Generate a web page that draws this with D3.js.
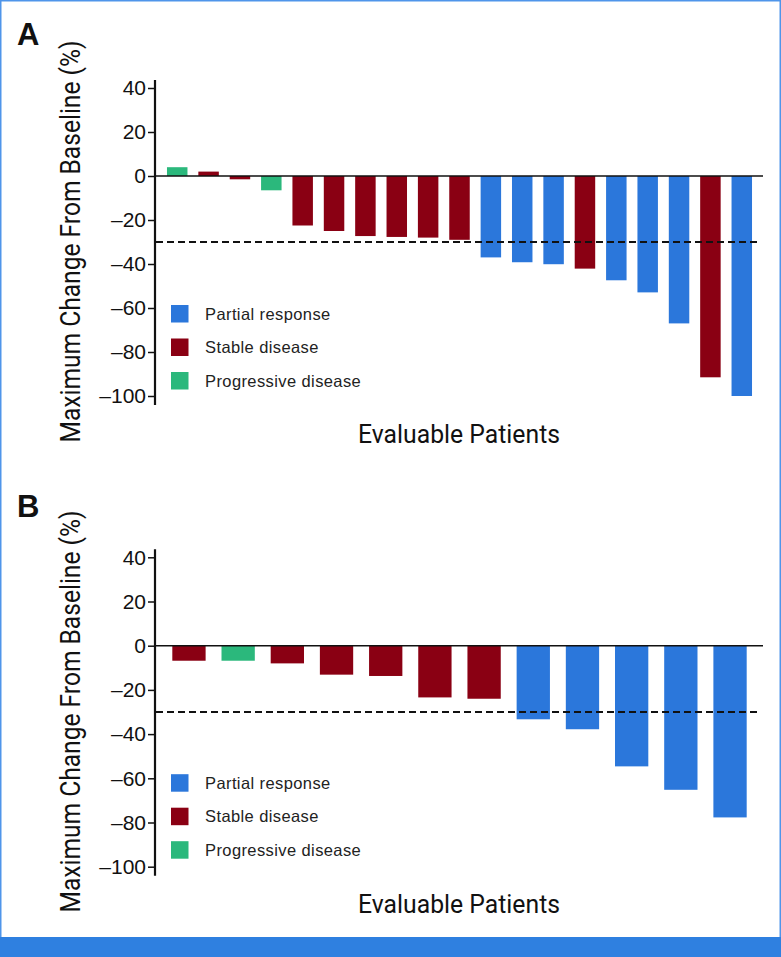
<!DOCTYPE html>
<html><head><meta charset="utf-8">
<script src="https://cdn.jsdelivr.net/npm/d3@7/dist/d3.min.js"></script>
<style>
html,body{margin:0;padding:0;background:#fff;}
svg{display:block;}
</style></head>
<body>
<div id="chart"></div>
<script>
// ---- Data ----
const categories = ["Partial response", "Stable disease", "Progressive disease"];
const categoryColors = ["#2B77DB", "#8A0013", "#2BB87C"];
const yTicks = [40, 20, 0, -20, -40, -60, -80, -100];
const threshold = -30;

// Panel A (19 evaluable patients)
const patientsA = d3.range(1, 20).map(String);
const valuesA = [4, 2, -1.5, -6.5, -22.5, -25, -27.3, -27.7, -28, -29, -37, -39.2, -40.1, -42.1, -47.4, -52.9, -67, -91.5, -100];
const responseA = ["Progressive disease","Stable disease","Stable disease","Progressive disease","Stable disease","Stable disease","Stable disease","Stable disease","Stable disease","Stable disease","Partial response","Partial response","Partial response","Stable disease","Partial response","Partial response","Partial response","Stable disease","Partial response"];

// Panel B (12 evaluable patients)
const patientsB = d3.range(1, 13).map(String);
const valuesB = [-6.8, -6.8, -8, -13.1, -13.7, -23.4, -24, -33.3, -37.8, -54.6, -65.2, -77.7];
const responseB = ["Stable disease","Progressive disease","Stable disease","Stable disease","Stable disease","Stable disease","Stable disease","Partial response","Partial response","Partial response","Partial response","Partial response"];

const yTitle = "Maximum Change From Baseline (%)";
const xTitle = "Evaluable Patients";

// ---- Drawing ----
const W = 781, H = 957;
const svg = d3.select("#chart").append("svg").attr("width", W).attr("height", H);

// frame
svg.append("rect").attr("x",0).attr("y",0).attr("width",W).attr("height",H).attr("fill","#fff");
svg.append("rect").attr("x",0.75).attr("y",0.75).attr("width",W-1.5).attr("height",H).attr("fill","none").attr("stroke","#4F95EA").attr("stroke-width",1.5);
svg.append("rect").attr("x",0).attr("y",937).attr("width",W).attr("height",20).attr("fill","#2F80E0");

const color = d3.scaleOrdinal().domain(categories).range(categoryColors);

function panel(cfg) {
  const g = svg.append("g");
  const x = d3.scaleBand().domain(cfg.patients).range([155, 764])
    .paddingInner(cfg.pInner).paddingOuter(cfg.pOuter);
  const y = d3.scaleLinear().domain([-100, 40]).range(cfg.yRange);

  // panel letter
  g.append("text").attr("x", 17).attr("y", cfg.letterY)
    .attr("font-family", "'Liberation Sans', Arial, sans-serif")
    .attr("font-weight", "bold").attr("font-size", 31).attr("fill", "#111")
    .text(cfg.letter);

  // bars
  g.selectAll("rect.bar").data(cfg.values).join("rect").attr("class","bar")
    .attr("x", (d,i) => x(cfg.patients[i]))
    .attr("width", x.bandwidth())
    .attr("y", d => Math.min(y(d), y(0)))
    .attr("height", d => Math.abs(y(d) - y(0)))
    .attr("fill", (d,i) => color(cfg.response[i]));

  // y axis
  const axis = d3.axisLeft(y).tickValues(yTicks).tickSize(7).tickPadding(2)
    .tickFormat(d => d < 0 ? "\u2013" + Math.abs(d) : String(d));
  const ag = g.append("g").attr("transform", "translate(155,0)").call(axis);
  ag.select(".domain").remove();
  ag.selectAll(".tick line").attr("stroke", "#111").attr("stroke-width", 1.5);
  ag.selectAll(".tick text").attr("font-family", "'Liberation Sans', Arial, sans-serif")
    .attr("font-size", 21).attr("fill", "#111");
  g.append("line").attr("x1", 155).attr("x2", 155)
    .attr("y1", y(40) - 8).attr("y2", y(-100) + 9)
    .attr("stroke", "#111").attr("stroke-width", 2.2);

  // zero line
  g.append("line").attr("x1", 155).attr("x2", 763).attr("y1", y(0)).attr("y2", y(0))
    .attr("stroke", "#111").attr("stroke-width", 1.5);
  // threshold
  g.append("line").attr("x1", 156).attr("x2", 757).attr("y1", y(threshold)).attr("y2", y(threshold))
    .attr("stroke", "#111").attr("stroke-width", 2).attr("stroke-dasharray", "7,4");

  // legend
  const lg = g.append("g");
  categories.forEach((c, i) => {
    const cy = cfg.legendY + i * 33.5;
    lg.append("rect").attr("x", 171).attr("y", cy - 8.5).attr("width", 17.5).attr("height", 17.5)
      .attr("fill", color(c));
    lg.append("text").attr("x", 205).attr("y", cy + 6)
      .attr("font-family", "'Liberation Sans', Arial, sans-serif")
      .attr("font-size", 16.5).attr("letter-spacing", 0.4).attr("fill", "#222").text(c);
  });

  // y title
  g.append("text")
    .attr("transform", `translate(80,${cfg.yTitleC}) rotate(-90)`)
    .attr("text-anchor", "middle")
    .attr("font-family", "'Liberation Sans Narrow', 'Roboto', 'Liberation Sans', sans-serif")
    .attr("font-size", 27).attr("fill", "#111")
    .attr("textLength", 402).attr("lengthAdjust", "spacingAndGlyphs")
    .text(yTitle);

  // x title
  g.append("text").attr("x", 358).attr("y", cfg.xTitleY)
    .attr("font-family", "'Liberation Sans Narrow', 'Roboto', 'Liberation Sans', sans-serif")
    .attr("font-size", 25).attr("fill", "#111")
    .attr("textLength", 202).attr("lengthAdjust", "spacingAndGlyphs")
    .text(xTitle);
}

panel({letter: "A", letterY: 45, patients: patientsA, values: valuesA, response: responseA,
  pInner: 0.347, pOuter: 0.382, yRange: [396, 88], legendY: 313.5, yTitleC: 241.5, xTitleY: 443});
panel({letter: "B", letterY: 517, patients: patientsB, values: valuesB, response: responseB,
  pInner: 0.323, pOuter: 0.352, yRange: [866.7, 557.3], legendY: 782.7, yTitleC: 711.5, xTitleY: 913});
</script>
</body></html>
